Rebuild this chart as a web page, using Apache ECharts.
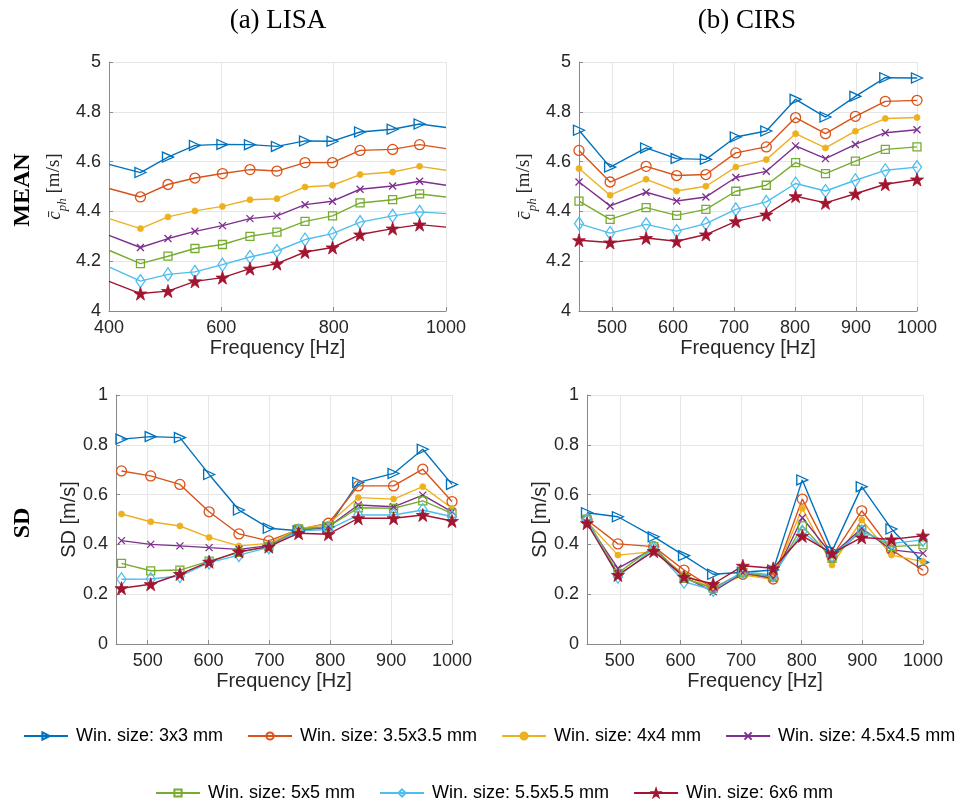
<!DOCTYPE html>
<html>
<head>
<meta charset="utf-8">
<script src="https://cdn.jsdelivr.net/npm/echarts@6/dist/echarts.min.js"></script>
<style>
  html, body { margin: 0; padding: 0; background: #fff; }
  #chart { width: 971px; height: 804px; }
</style>
</head>
<body>
<div id="chart"></div>
<script>
// Window sizes shown in the legend
const winSizes = [
  'Win. size: 3x3 mm', 'Win. size: 3.5x3.5 mm', 'Win. size: 4x4 mm', 'Win. size: 4.5x4.5 mm',
  'Win. size: 5x5 mm', 'Win. size: 5.5x5.5 mm', 'Win. size: 6x6 mm'
];

// Frequencies [Hz]
const lisaMeanFreq = [400, 456, 505, 553, 602, 651, 699, 749, 798, 847, 905, 953, 1000];
const lisaSdFreq   = [457, 505, 553, 601, 650, 699, 748, 797, 846, 904, 952, 1000];
const cirsFreq     = [446, 497, 556, 606, 654, 703, 753, 801, 850, 899, 948, 1000];

// Tick labels
const meanTicks = [4, 4.2, 4.4, 4.6, 4.8, 5];
const sdTicks = [0, 0.2, 0.4, 0.6, 0.8, 1];
const lisaMeanFreqTicks = [400, 600, 800, 1000];
const freqTicks = [500, 600, 700, 800, 900, 1000];

// LISA phantom: mean phase velocity [m/s]
const lisaMean3   = [4.589, 4.556, 4.618, 4.665, 4.669, 4.668, 4.661, 4.683, 4.682, 4.719, 4.730, 4.751, 4.737];
const lisaMean35  = [4.492, 4.458, 4.508, 4.534, 4.552, 4.568, 4.562, 4.596, 4.596, 4.645, 4.649, 4.668, 4.652];
const lisaMean4   = [4.371, 4.331, 4.378, 4.402, 4.420, 4.447, 4.451, 4.498, 4.505, 4.548, 4.558, 4.581, 4.565];
const lisaMean45  = [4.304, 4.255, 4.291, 4.320, 4.343, 4.371, 4.382, 4.427, 4.441, 4.489, 4.502, 4.521, 4.505];
const lisaMean5   = [4.244, 4.190, 4.220, 4.251, 4.267, 4.300, 4.317, 4.360, 4.382, 4.434, 4.447, 4.470, 4.458];
const lisaMean55  = [4.177, 4.120, 4.147, 4.157, 4.186, 4.217, 4.241, 4.287, 4.311, 4.357, 4.382, 4.398, 4.391];
const lisaMean6   = [4.119, 4.070, 4.080, 4.119, 4.134, 4.170, 4.190, 4.237, 4.255, 4.307, 4.331, 4.347, 4.337];

// CIRS phantom: mean phase velocity [m/s]
const cirsMean3   = [4.726, 4.578, 4.655, 4.612, 4.609, 4.699, 4.723, 4.850, 4.779, 4.862, 4.937, 4.936];
const cirsMean35  = [4.645, 4.518, 4.581, 4.544, 4.548, 4.635, 4.659, 4.777, 4.712, 4.782, 4.842, 4.846];
const cirsMean4   = [4.572, 4.465, 4.529, 4.482, 4.501, 4.578, 4.608, 4.712, 4.655, 4.722, 4.773, 4.777];
const cirsMean45  = [4.518, 4.422, 4.477, 4.442, 4.458, 4.536, 4.561, 4.663, 4.612, 4.669, 4.716, 4.728];
const cirsMean5   = [4.441, 4.368, 4.415, 4.384, 4.408, 4.481, 4.505, 4.596, 4.552, 4.602, 4.649, 4.659];
const cirsMean55  = [4.351, 4.313, 4.348, 4.321, 4.351, 4.408, 4.438, 4.512, 4.482, 4.525, 4.565, 4.578];
const cirsMean6   = [4.284, 4.275, 4.293, 4.280, 4.307, 4.360, 4.387, 4.461, 4.434, 4.471, 4.509, 4.528];

// LISA phantom: standard deviation [m/s]
const lisaSd3   = [0.823, 0.833, 0.829, 0.681, 0.538, 0.465, 0.455, 0.470, 0.649, 0.685, 0.782, 0.641];
const lisaSd35  = [0.695, 0.675, 0.641, 0.531, 0.442, 0.414, 0.460, 0.485, 0.635, 0.635, 0.702, 0.572];
const lisaSd4   = [0.522, 0.491, 0.474, 0.428, 0.394, 0.404, 0.462, 0.482, 0.588, 0.582, 0.632, 0.545];
const lisaSd45  = [0.415, 0.400, 0.394, 0.387, 0.380, 0.395, 0.458, 0.471, 0.558, 0.551, 0.598, 0.531];
const lisaSd5   = [0.324, 0.294, 0.297, 0.333, 0.368, 0.391, 0.462, 0.471, 0.547, 0.545, 0.575, 0.525];
const lisaSd55  = [0.260, 0.261, 0.273, 0.327, 0.357, 0.388, 0.455, 0.460, 0.518, 0.518, 0.538, 0.511];
const lisaSd6   = [0.224, 0.240, 0.281, 0.330, 0.371, 0.391, 0.445, 0.441, 0.505, 0.505, 0.518, 0.494];

// CIRS phantom: standard deviation [m/s]
const cirsSd3   = [0.527, 0.511, 0.431, 0.355, 0.280, 0.288, 0.297, 0.659, 0.373, 0.632, 0.462, 0.328];
const cirsSd35  = [0.498, 0.402, 0.391, 0.297, 0.224, 0.280, 0.261, 0.582, 0.351, 0.535, 0.378, 0.297];
const cirsSd4   = [0.491, 0.357, 0.371, 0.281, 0.220, 0.277, 0.261, 0.545, 0.317, 0.498, 0.357, 0.331];
const cirsSd45  = [0.487, 0.304, 0.384, 0.270, 0.210, 0.286, 0.264, 0.507, 0.357, 0.465, 0.378, 0.364];
const cirsSd5   = [0.501, 0.284, 0.391, 0.264, 0.224, 0.288, 0.270, 0.474, 0.344, 0.458, 0.391, 0.398];
const cirsSd55  = [0.498, 0.270, 0.384, 0.250, 0.217, 0.290, 0.277, 0.451, 0.357, 0.451, 0.404, 0.418];
const cirsSd6   = [0.485, 0.277, 0.373, 0.270, 0.241, 0.314, 0.304, 0.434, 0.364, 0.428, 0.420, 0.435];

// ---- styling ----
const palette = ['#0072BD', '#D95319', '#EDB120', '#7E2F8E', '#77AC30', '#4DBEEE', '#A2142F'];
const crossPath = 'path://M0,0L10,10M0,10L10,0';
const starPath = 'path://M50,0L61.8,35.3L98.9,35.3L68.9,57.1L80.3,92.4L50,70.6L19.7,92.4L31.1,57.1L1.1,35.3L38.2,35.3Z';
const markers = [
  { symbol: 'triangle', size: [10, 11], rotate: -90, open: true },
  { symbol: 'circle', size: 10, open: true },
  { symbol: 'circle', size: 6, open: false },
  { symbol: crossPath, size: 7, open: true },
  { symbol: 'rect', size: 8, open: true },
  { symbol: 'diamond', size: [9, 13], open: true },
  { symbol: starPath, size: 13, open: false }
];

const sans = '"Liberation Sans", Arial, sans-serif';
const serif = '"Liberation Serif", "Times New Roman", serif';
const tickColor = '#262626';
const axisColor = '#8a8a8a';
const gridColor = '#e6e6e6';

// Build the seven series of one panel
function panelSeries(freq, rows, idx, bareEnds) {
  return rows.map((vals, k) => {
    const m = markers[k];
    const data = vals.map((v, i) => {
      const pt = { value: [freq[i], v] };
      if (bareEnds && (i === 0 || i === vals.length - 1)) pt.symbol = 'none';
      return pt;
    });
    return {
      type: 'line',
      name: winSizes[k],
      xAxisIndex: idx,
      yAxisIndex: idx,
      data: data,
      symbol: m.symbol,
      symbolSize: m.size,
      symbolRotate: m.rotate || 0,
      showSymbol: true,
      clip: true,
      lineStyle: { color: palette[k], width: 1.4 },
      itemStyle: {
        color: m.open ? 'rgba(255,255,255,0)' : palette[k],
        borderColor: palette[k],
        borderWidth: m.open ? 1.3 : 0.8
      },
      emphasis: { disabled: true },
      animation: false
    };
  });
}

const plainNumber = v => String(v);

function xAxisCfg(idx, min, max, ticks, interval) {
  const cfg = {
    type: 'value', gridIndex: idx, min: min, max: max,
    name: 'Frequency [Hz]', nameLocation: 'middle', nameGap: 27,
    nameTextStyle: { fontFamily: sans, fontSize: 20, color: tickColor },
    axisLine: { show: true, onZero: false, lineStyle: { color: axisColor, width: 1 } },
    axisTick: { show: true, inside: true, length: 4, lineStyle: { color: axisColor } },
    axisLabel: { fontFamily: sans, fontSize: 18, color: tickColor, margin: 8, formatter: plainNumber },
    splitLine: { show: true, lineStyle: { color: gridColor, width: 1 } }
  };
  if (interval) {
    cfg.interval = interval;
  } else {
    cfg.axisLabel.customValues = ticks;
    cfg.axisTick.customValues = ticks;
  }
  return cfg;
}

function yAxisCfg(idx, min, max, name, nameGap, rich) {
  const cfg = {
    type: 'value', gridIndex: idx, min: min, max: max, interval: 0.2,
    name: name, nameLocation: 'middle', nameGap: nameGap, nameRotate: 90,
    nameTextStyle: { fontFamily: sans, fontSize: 20, color: tickColor },
    axisLine: { show: true, onZero: false, lineStyle: { color: axisColor, width: 1 } },
    axisTick: { show: true, inside: true, length: 4, lineStyle: { color: axisColor } },
    axisLabel: { fontFamily: sans, fontSize: 18, color: tickColor, margin: 8 },
    splitLine: { show: true, lineStyle: { color: gridColor, width: 1 } }
  };
  if (rich) cfg.nameTextStyle.rich = rich;
  return cfg;
}

const meanNameRich = {
  c: { fontFamily: serif, fontStyle: 'italic', fontSize: 19, color: tickColor, lineHeight: 19, padding: [0, 0, 5, 0], verticalAlign: 'bottom' },
  s: { fontFamily: serif, fontStyle: 'italic', fontSize: 13, color: tickColor, lineHeight: 13, verticalAlign: 'bottom' },
  u: { fontFamily: serif, fontSize: 19, color: tickColor, lineHeight: 19, padding: [0, 0, 5, 0], verticalAlign: 'bottom' }
};
const meanName = '{c|c\u0304}{s|ph}{u| [m/s]}';

const legendText = { fontFamily: sans, fontSize: 18, color: '#000', padding: [0, 0, 0, 3] };

const option = {
  backgroundColor: '#fff',
  animation: false,
  grid: [
    { left: 109, top: 62, width: 337, height: 249 },
    { left: 579, top: 62, width: 338, height: 249 },
    { left: 116, top: 395, width: 336, height: 249 },
    { left: 587, top: 395, width: 336, height: 249 }
  ],
  xAxis: [
    xAxisCfg(0, lisaMeanFreqTicks[0], lisaMeanFreqTicks[lisaMeanFreqTicks.length - 1], lisaMeanFreqTicks, 200),
    xAxisCfg(1, cirsFreq[0], 1000, freqTicks),
    xAxisCfg(2, 448, 1000, freqTicks),
    xAxisCfg(3, cirsFreq[0], 1000, freqTicks)
  ],
  yAxis: [
    yAxisCfg(0, meanTicks[0], meanTicks[meanTicks.length - 1], meanName, 40, meanNameRich),
    yAxisCfg(1, meanTicks[0], meanTicks[meanTicks.length - 1], meanName, 40, meanNameRich),
    yAxisCfg(2, sdTicks[0], sdTicks[sdTicks.length - 1], 'SD [m/s]', 36),
    yAxisCfg(3, sdTicks[0], sdTicks[sdTicks.length - 1], 'SD [m/s]', 36)
  ],
  legend: [
    {
      data: winSizes.slice(0, 4), left: 18, top: 722, itemWidth: 44, itemHeight: 9, itemGap: 24,
      textStyle: legendText, selectedMode: false
    },
    {
      data: winSizes.slice(4), left: 150, top: 779, itemWidth: 44, itemHeight: 9, itemGap: 24,
      textStyle: legendText, selectedMode: false
    }
  ],
  graphic: [
    { type: 'text', x: 278, y: 21, style: { text: '(a) LISA', font: '27px ' + serif, fill: '#000', align: 'center', verticalAlign: 'middle' } },
    { type: 'text', x: 747, y: 21, style: { text: '(b) CIRS', font: '27px ' + serif, fill: '#000', align: 'center', verticalAlign: 'middle' } },
    { type: 'text', x: 23, y: 190, rotation: Math.PI / 2, style: { text: 'MEAN', font: 'bold 24px ' + serif, fill: '#000', align: 'center', verticalAlign: 'middle' } },
    { type: 'text', x: 23, y: 523, rotation: Math.PI / 2, style: { text: 'SD', font: 'bold 24px ' + serif, fill: '#000', align: 'center', verticalAlign: 'middle' } }
  ],
  series: [].concat(
    panelSeries(lisaMeanFreq, [lisaMean3, lisaMean35, lisaMean4, lisaMean45, lisaMean5, lisaMean55, lisaMean6], 0, true),
    panelSeries(cirsFreq, [cirsMean3, cirsMean35, cirsMean4, cirsMean45, cirsMean5, cirsMean55, cirsMean6], 1, false),
    panelSeries(lisaSdFreq, [lisaSd3, lisaSd35, lisaSd4, lisaSd45, lisaSd5, lisaSd55, lisaSd6], 2, false),
    panelSeries(cirsFreq, [cirsSd3, cirsSd35, cirsSd4, cirsSd45, cirsSd5, cirsSd55, cirsSd6], 3, false)
  )
};

const chart = echarts.init(document.getElementById('chart'), null, { renderer: 'canvas' });
chart.setOption(option);
</script>
</body>
</html>
